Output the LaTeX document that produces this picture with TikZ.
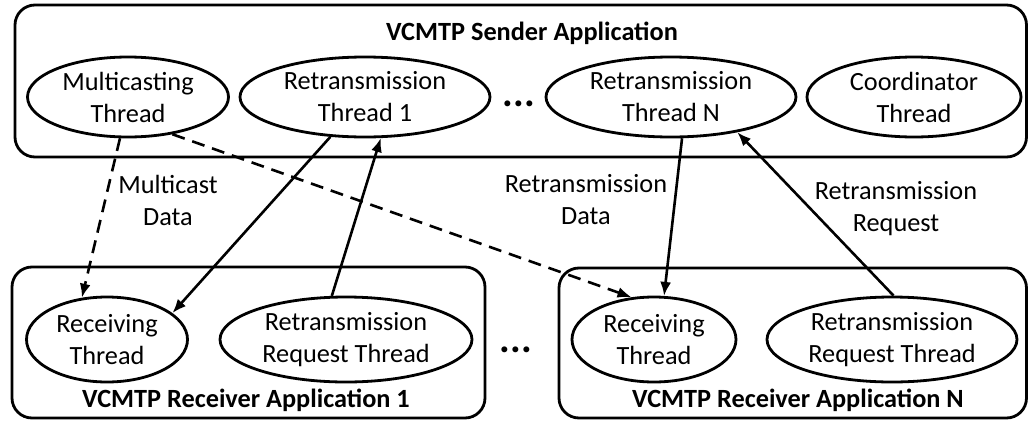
\documentclass[tikz,border=0pt]{standalone}
\usepackage{fontspec}
\setmainfont{Carlito}
\usetikzlibrary{shapes.geometric,arrows.meta}
\begin{document}
\begin{tikzpicture}[x=1pt,y=-1pt,
  every node/.style={font=\fontsize{26.3}{32}\selectfont},
  box/.style={draw,line width=2.8pt,rounded corners=20pt},
  thr/.style={draw,ellipse,line width=2.8pt,inner sep=0pt,align=center},
  lbl/.style={align=center,inner sep=0pt},
  ttl/.style={inner sep=0pt,font=\fontsize{26.3}{32}\selectfont\bfseries},
  dots/.style={inner sep=0pt,font=\fontsize{40}{40}\selectfont\bfseries},
  arr/.style={line width=2.6pt,-{Latex[length=14pt,width=11pt]}},
  darr/.style={arr,dash pattern=on 13pt off 8pt}]
\useasboundingbox (0,0) rectangle (1029,421);
% boxes
\draw[box] (15,5) rectangle (1026.5,157);
\draw[box] (12,267) rectangle (485,418);
\draw[box] (559,268) rectangle (1026.5,418);
% titles
\node[ttl] (st) at (532,33) {VCMTP Sender Application};
\node[ttl] (r1t) at (246,400) {VCMTP Receiver Application 1};
\node[ttl] (rnt) at (798,400) {VCMTP Receiver Application N};
% sender threads
\node[thr,minimum width=201pt,minimum height=80pt] (mc) at (128,97) {Multicasting\\Thread};
\node[thr,minimum width=250pt,minimum height=80pt] (rt1) at (365,97) {Retransmission\\Thread 1};
\node[thr,minimum width=250pt,minimum height=80pt] (rtn) at (671,97) {Retransmission\\Thread N};
\node[thr,minimum width=214pt,minimum height=80pt] (co) at (914,97) {Coordinator\\Thread};
\node[dots,anchor=base] (d1) at (519,106) {...};
% receiver threads
\node[thr,minimum width=161pt,minimum height=85pt] (rc1) at (107,339.5) {Receiving\\Thread};
\node[thr,minimum width=252pt,minimum height=85pt] (rr1) at (346,339.5) {Retransmission\\Request Thread};
\node[thr,minimum width=164pt,minimum height=85pt] (rcn) at (654,339.5) {Receiving\\Thread};
\node[thr,minimum width=250pt,minimum height=85pt] (rrn) at (892,339.5) {Retransmission\\Request Thread};
\node[dots,anchor=base] (d2) at (516,352) {...};
% labels
\node[lbl] (l1) at (168,200) {Multicast\\Data};
\node[lbl] (l2) at (586,200) {Retransmission\\Data};
\node[lbl] (l3) at (896,209) {Retransmission\\Request};
% connectors
\draw[darr] (mc.-101) -- (rc1.121);
\draw[darr] (mc.-40) -- (rcn.118);
\draw[arr] (rt1.-131) -- (rc1.22);
\draw[arr] (rr1.108) -- (rt1.-69);
\draw[arr] (rtn.-75) -- (rcn.77);
\draw[arr] (rrn.88) -- (rtn.-28);
\end{tikzpicture}
\end{document}
